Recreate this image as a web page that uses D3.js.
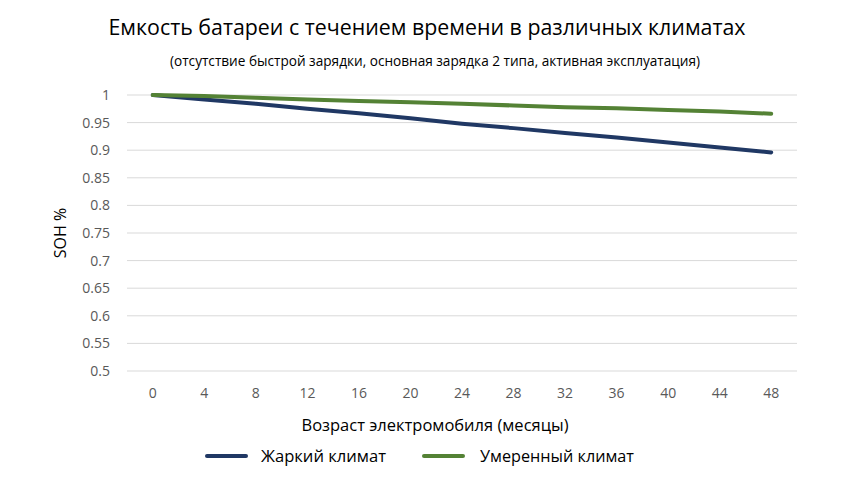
<!DOCTYPE html>
<html>
<head>
<meta charset="utf-8">
<script src="https://cdn.jsdelivr.net/npm/d3@7"></script>
<style>
  body { margin: 0; background: #fff; }
  text { font-family: "Liberation Sans Narrow", "Open Sans", sans-serif; }
</style>
</head>
<body>
<div id="chart"></div>
<script>
const months = [0, 4, 8, 12, 16, 20, 24, 28, 32, 36, 40, 44, 48];
const hotSoh = [1, 0.992, 0.984, 0.975, 0.967, 0.958, 0.948, 0.94, 0.931, 0.923, 0.914, 0.905, 0.896];
const mildSoh = [1, 0.998, 0.995, 0.992, 0.989, 0.987, 0.984, 0.981, 0.978, 0.976, 0.973, 0.97, 0.966];
const yTicks = [0.5, 0.55, 0.6, 0.65, 0.7, 0.75, 0.8, 0.85, 0.9, 0.95, 1];
const seriesNames = ["Жаркий климат", "Умеренный климат"];
const seriesColors = ["#203864", "#548235"];

const width = 852, height = 496;
const plotLeft = 127, plotRight = 797, plotTop = 95, plotBottom = 371;

const svg = d3.select("#chart")
    .append("svg")
    .attr("width", width)
    .attr("height", height);

const x = d3.scaleBand()
    .domain(months)
    .range([plotLeft, plotRight]);

const y = d3.scaleLinear()
    .domain([0.5, 1])
    .range([plotBottom, plotTop]);

// gridlines
svg.append("g")
    .selectAll("line")
    .data(yTicks)
    .enter()
    .append("line")
    .attr("x1", plotLeft)
    .attr("x2", plotRight)
    .attr("y1", (d) => y(d))
    .attr("y2", (d) => y(d))
    .attr("stroke", "#d9d9d9")
    .attr("stroke-width", 1);

// y axis labels
const yAxis = svg.append("g")
    .attr("transform", `translate(${plotLeft - 14},0)`)
    .call(d3.axisLeft(y).tickValues(yTicks).tickSize(0).tickFormat((d) => String(+d.toFixed(2))));
yAxis.select(".domain").remove();
yAxis.selectAll("text")
    .attr("fill", "#595959")
    .style("font-size", "14px");

// x axis labels
const xAxis = svg.append("g")
    .attr("transform", `translate(0,${plotBottom + 14})`)
    .call(d3.axisBottom(x).tickSize(0));
xAxis.select(".domain").remove();
xAxis.selectAll("text")
    .attr("fill", "#595959")
    .style("font-size", "14px");

const line = d3.line()
    .x((d, i) => x(months[i]) + x.bandwidth() / 2)
    .y((d) => y(d));

[hotSoh, mildSoh].forEach((s, k) => {
    svg.append("path")
        .datum(s)
        .attr("fill", "none")
        .attr("stroke", seriesColors[k])
        .attr("stroke-width", 4)
        .attr("stroke-linecap", "round")
        .attr("d", line);
});

// titles
svg.append("text")
    .attr("x", 427)
    .attr("y", 35)
    .attr("text-anchor", "middle")
    .style("font-size", "22px")
    .attr("fill", "#000")
    .attr("textLength", 637)
    .attr("lengthAdjust", "spacingAndGlyphs")
    .text("Емкость батареи с течением времени в различных климатах");

svg.append("text")
    .attr("x", 435)
    .attr("y", 66)
    .attr("text-anchor", "middle")
    .style("font-size", "14px")
    .attr("fill", "#000")
    .attr("textLength", 530)
    .attr("lengthAdjust", "spacingAndGlyphs")
    .text("(отсутствие быстрой зарядки, основная зарядка 2 типа, активная эксплуатация)");

svg.append("text")
    .attr("transform", `translate(66,${(plotTop + plotBottom) / 2}) rotate(-90)`)
    .attr("text-anchor", "middle")
    .style("font-size", "16px")
    .attr("fill", "#000")
    .text("SOH %");

svg.append("text")
    .attr("x", 435)
    .attr("y", 431)
    .attr("text-anchor", "middle")
    .style("font-size", "17px")
    .attr("fill", "#000")
    .attr("textLength", 267)
    .attr("lengthAdjust", "spacingAndGlyphs")
    .text("Возраст электромобиля (месяцы)");

// legend
const legendX = [207, 424];
const legendW = [125, 154];
const legend = svg.append("g")
    .selectAll("g")
    .data(seriesNames)
    .enter()
    .append("g")
    .attr("transform", (d, i) => `translate(${legendX[i]},456)`);

legend.append("line")
    .attr("x1", 0)
    .attr("x2", 39)
    .attr("stroke", (d, i) => seriesColors[i])
    .attr("stroke-width", 4)
    .attr("stroke-linecap", "round");

legend.append("text")
    .attr("x", (d, i) => i === 0 ? 54 : 56)
    .attr("y", 6)
    .style("font-size", "17px")
    .attr("fill", "#000")
    .attr("textLength", (d, i) => legendW[i])
    .attr("lengthAdjust", "spacingAndGlyphs")
    .text((d) => d);
</script>
</body>
</html>
